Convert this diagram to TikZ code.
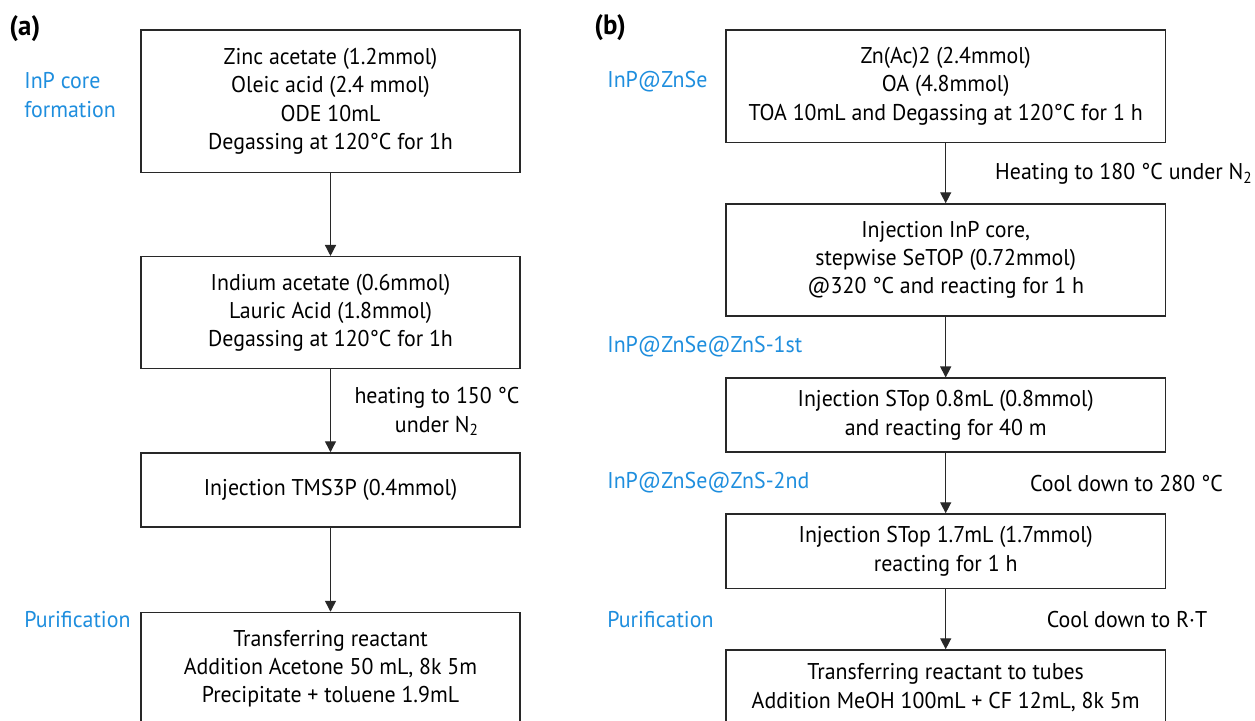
\documentclass[tikz,border=0pt]{standalone}
\usepackage{fontspec}
\setmainfont[FakeStretch=0.96]{PT Sans}
\usepackage{xcolor}
\definecolor{stepblue}{RGB}{30,142,222}
\definecolor{linegray}{RGB}{40,40,40}
\usetikzlibrary{arrows.meta}

\begin{document}
\begin{tikzpicture}[x=0.5pt,y=-0.5pt,
  font=\fontsize{11.4}{14.15}\selectfont,
  box/.style={draw=linegray,line width=0.75pt,align=center,inner sep=0pt},
  boxa/.style={box,minimum width=189.3pt},
  boxb/.style={box,minimum width=219.8pt},
  flow/.style={draw=linegray,line width=0.7pt,-{Triangle[length=5.5pt,width=5.5pt]}},
  stage/.style={text=stepblue,anchor=west,align=left,inner sep=0pt},
  cond/.style={align=center,inner sep=0pt},
  panel/.style={font=\fontsize{14}{16}\selectfont\bfseries,anchor=west,inner sep=0pt}]
  \clip (0,0) rectangle (1255,720);
  \fill[white] (0,0) rectangle (1255,720);

  % (a) InP core
  \node[panel] (pa) at (9,29) {(a)};
  \node[boxa,minimum height=71.3pt] (zinc) at (330.5,101.3)
    {Zinc acetate (1.2mmol)\\Oleic acid (2.4 mmol)\\ODE 10mL\\Degassing at 120°C for 1h};
  \node[boxa,minimum height=56pt] (indium) at (330.5,312.7)
    {Indium acetate (0.6mmol)\\Lauric Acid (1.8mmol)\\Degassing at 120°C for 1h};
  \node[boxa,minimum height=37pt] (tms) at (330.5,490)
    {Injection TMS3P (0.4mmol)};
  \node[boxa,minimum height=56pt] (purea) at (330.5,668.5)
    {Transferring reactant\\Addition Acetone 50 mL, 8k 5m\\Precipitate + toluene 1.9mL};
  \draw[flow] (zinc) -- (indium);
  \draw[flow] (indium) -- (tms);
  \draw[flow] (tms) -- (purea);
  \node[cond] (heata) at (437,411.7) {heating to 150 °C\\under N\textsubscript{2}};
  \node[stage] (corelbl) at (24,95) {InP core\\formation};
  \node[stage] (purelbla) at (24,620) {Purification};

  % (b) shells
  \node[panel] (pb) at (594,28) {(b)};
  \node[boxb,minimum height=56.2pt] (znac) at (945.7,86.2)
    {Zn(Ac)2 (2.4mmol)\\OA (4.8mmol)\\TOA 10mL and Degassing at 120°C for 1 h};
  \node[boxb,minimum height=56pt] (setop) at (945.7,260)
    {Injection InP core,\\stepwise SeTOP (0.72mmol)\\@320 °C and reacting for 1 h};
  \node[boxb,minimum height=37pt] (stopa) at (945.7,415.2)
    {Injection STop 0.8mL (0.8mmol)\\and reacting for 40 m};
  \node[boxb,minimum height=37.3pt] (stopb) at (945.7,551.3)
    {Injection STop 1.7mL (1.7mmol)\\reacting for 1 h};
  \node[boxb,minimum height=37.5pt] (pureb) at (945.7,687.5)
    {Transferring reactant to tubes\\Addition MeOH 100mL + CF 12mL, 8k 5m};
  \draw[flow] (znac) -- (setop);
  \draw[flow] (setop) -- (stopa);
  \draw[flow] (stopa) -- (stopb);
  \draw[flow] (stopb) -- (pureb);
  \node[cond] (heatb) at (1124,174) {Heating to 180 °C under N\textsubscript{2}};
  \node[cond] (coolb) at (1126.5,484) {Cool down to 280 °C};
  \node[cond] (coolrt) at (1127,620) {Cool down to R·T};
  \node[stage] (znselbl) at (607,81.7) {InP@ZnSe};
  \node[stage] (firstlbl) at (607,347) {InP@ZnSe@ZnS-1st};
  \node[stage] (secondlbl) at (607,483) {InP@ZnSe@ZnS-2nd};
  \node[stage] (purelblb) at (607,620) {Purification};
\end{tikzpicture}
\end{document}
